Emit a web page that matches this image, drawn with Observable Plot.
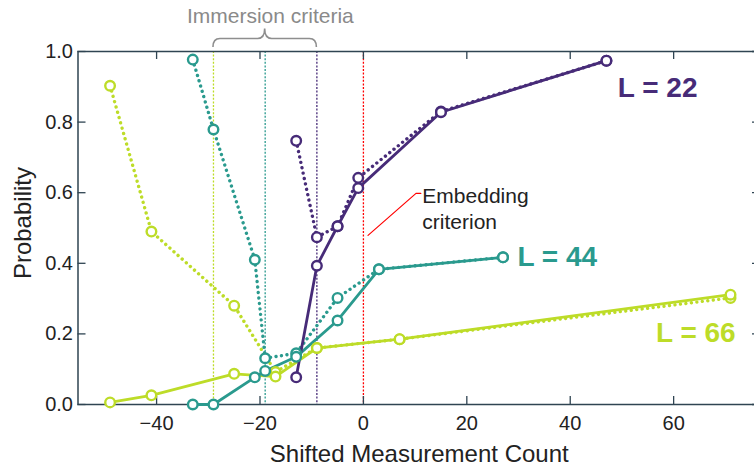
<!DOCTYPE html>
<html>
<head>
<meta charset="utf-8">
<script src="https://cdn.jsdelivr.net/npm/d3@7"></script>
<script src="https://cdn.jsdelivr.net/npm/@observablehq/plot@0.6"></script>
<style>
html, body { margin: 0; padding: 0; background: #fff; overflow: hidden; width: 754px; height: 467px; }
#chart { width: 754px; height: 467px; overflow: hidden; }
#chart svg { max-width: none !important; width: 761px !important; height: 467px !important; display: block; }
</style>
</head>
<body>
<div id="chart"></div>
<script>
// ---- data ----
const seriesNames = ["L = 22", "L = 44", "L = 66"];

const x22 = [-13, -9, -5, -1, 15, 47];
const solid22 = [0.077, 0.393, 0.505, 0.613, 0.828, 0.974];
const dotted22 = [0.747, 0.474, 0.505, 0.642, 0.830, 0.974];

const x44 = [-33, -29, -21, -19, -13, -5, 3, 27];
const solid44 = [0.0, 0.0, 0.077, 0.095, 0.135, 0.238, 0.383, 0.417];
const dotted44 = [0.977, 0.779, 0.410, 0.131, 0.145, 0.302, 0.383, 0.417];

const x66 = [-49, -41, -25, -17, -9, 7, 71];
const solid66 = [0.006, 0.026, 0.087, 0.079, 0.160, 0.185, 0.311];
const dotted66 = [0.903, 0.490, 0.280, 0.092, 0.160, 0.185, 0.302];

const immersionX = [-29, -19, -9];   // immersion criteria for L = 66, 44, 22
const immersionSeries = ["L = 66", "L = 44", "L = 22"];
const embeddingX = [0];

const xTicks = [-40, -20, 0, 20, 40, 60];
const yTicks = [0, 0.2, 0.4, 0.6, 0.8, 1.0];

const xDomain = [-55.2, 76.8];
const yDomain = [0, 1];

// ---- styling ----
const colors = {"L = 22": "#472b78", "L = 44": "#2a9a8e", "L = 66": "#bddc28"};
const frameColor = "#2f4452";
const font = "'Liberation Sans', Arial, Helvetica, sans-serif";

// ---- tables ----
function rows(name, xs, ys) { return xs.map((x, i) => ({name, x, y: ys[i]})); }
const solid = [...rows("L = 66", x66, solid66), ...rows("L = 44", x44, solid44), ...rows("L = 22", x22, solid22)];
const dotted = [...rows("L = 66", x66, dotted66), ...rows("L = 44", x44, dotted44), ...rows("L = 22", x22, dotted22)];

const W = 761, H = 467, mL = 77.5, mR = 1, mT = 51, mB = 63;
const tx = 8 * (xDomain[1] - xDomain[0]) / (W - mL - mR);
const ty = 8 * (yDomain[1] - yDomain[0]) / (H - mT - mB);

function brace(index, scales) {
  const x1 = scales.x(immersionX[0]), x2 = scales.x(immersionX[2]);
  const xm = (x1 + x2) / 2;
  const yb = scales.y(1) - 4, yh = yb - 8.5, yp = yh - 10, r = 7;
  const path = `M${x1},${yb} Q${x1},${yh} ${x1 + r},${yh} L${xm - r},${yh} Q${xm},${yh} ${xm},${yp} Q${xm},${yh} ${xm + r},${yh} L${x2 - r},${yh} Q${x2},${yh} ${x2},${yb}`;
  const g = document.createElementNS("http://www.w3.org/2000/svg", "path");
  g.setAttribute("d", path);
  g.setAttribute("fill", "none");
  g.setAttribute("stroke", "#8e8e8e");
  g.setAttribute("stroke-width", "1.6");
  return g;
}

const labelStart = [
  {name: "L = 22", x: 49.2, y: 0.8705},
  {name: "L = 44", x: 29.8, y: 0.392}
];
const labelEnd = [
  {name: "L = 66", x: 72.0, y: 0.1765}
];

const criterionMarks = immersionX.map((x, i) =>
  Plot.ruleX([x], {x: d => d, stroke: colors[immersionSeries[i]], strokeWidth: 1.3, strokeDasharray: "2 1.6"})
);

const chart = Plot.plot({
  width: W, height: H,
  marginLeft: mL, marginRight: mR, marginTop: mT, marginBottom: mB,
  style: {fontFamily: font, fontSize: "20px", color: "#222", background: "#fff", overflow: "visible"},
  x: {domain: xDomain},
  y: {domain: yDomain},
  marks: [
    // criteria lines
    ...criterionMarks,
    Plot.ruleX(embeddingX, {x: d => d, stroke: "#ff0000", strokeWidth: 1.3, strokeDasharray: "2 1.6"}),
    // frame & ticks
    Plot.frame({stroke: frameColor, strokeWidth: 1.5}),
    Plot.ruleX(xTicks, {x: d => d, y1: yDomain[0], y2: yDomain[0] + ty, stroke: frameColor, strokeWidth: 1.3}),
    Plot.ruleX(xTicks, {x: d => d, y1: yDomain[1] - ty, y2: yDomain[1], stroke: frameColor, strokeWidth: 1.3}),
    Plot.ruleY(yTicks, {y: d => d, x1: xDomain[0], x2: xDomain[0] + tx, stroke: frameColor, strokeWidth: 1.3}),
    Plot.ruleY(yTicks, {y: d => d, x1: xDomain[1] - tx, x2: xDomain[1], stroke: frameColor, strokeWidth: 1.3}),
    Plot.axisX({ticks: xTicks, tickSize: 0, tickPadding: 11, tickFormat: d3.format("d"), fontSize: 20, label: null}),
    Plot.axisY({ticks: yTicks, tickSize: 0, tickPadding: 5, tickFormat: d3.format(".1f"), fontSize: 20, label: null}),
    // series
    Plot.line(dotted, {x: "x", y: "y", z: "name", stroke: d => colors[d.name], strokeWidth: 3.4, strokeDasharray: "0.01 5.5", strokeLinecap: "round"}),
    Plot.line(solid, {x: "x", y: "y", z: "name", stroke: d => colors[d.name], strokeWidth: 2.8}),
    Plot.dot(dotted, {x: "x", y: "y", r: 4.8, stroke: d => colors[d.name], strokeWidth: 2.4, fill: "white"}),
    Plot.dot(solid, {x: "x", y: "y", r: 4.8, stroke: d => colors[d.name], strokeWidth: 2.4, fill: "white"}),
    // series labels
    Plot.text(labelStart, {x: "x", y: "y", text: "name", textAnchor: "start", lineAnchor: "bottom", fill: d => colors[d.name], fontSize: 28, fontWeight: "bold"}),
    Plot.text(labelEnd, {x: "x", y: "y", text: "name", textAnchor: "end", lineAnchor: "bottom", fill: d => colors[d.name], fontSize: 28, fontWeight: "bold"}),
    // annotations
    brace,
    Plot.text(["Immersion criteria"], {x: -18, y: 1.082, text: d => d, lineAnchor: "bottom", fontSize: 21, fill: "#8a8a8a"}),
    Plot.line([{x: 0.89, y: 0.479}, {x: 10.17, y: 0.598}, {x: 11.1, y: 0.598}], {x: "x", y: "y", stroke: "#ff0000", strokeWidth: 1.2}),
    Plot.text(["Embedding\ncriterion"], {x: 11.4, y: 0.559, text: d => d, textAnchor: "start", lineAnchor: "middle", lineHeight: 1.24, fontSize: 21, fill: "#222"}),
    // axis titles
    Plot.text(["Shifted Measurement Count"], {frameAnchor: "bottom", dy: 57, text: d => d, lineAnchor: "bottom", fontSize: 24, fill: "#222"}),
    Plot.text(["Probability"], {x: xDomain[0], y: 0.514, dx: -47.5, text: d => d, rotate: -90, lineAnchor: "bottom", fontSize: 24, fill: "#222"})
  ]
});

document.getElementById("chart").appendChild(chart);
</script>
</body>
</html>
